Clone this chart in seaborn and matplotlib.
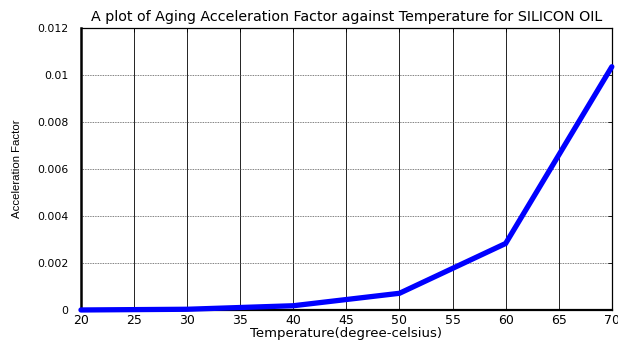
import matplotlib
matplotlib.use("Agg")
import matplotlib.pyplot as plt
import seaborn as sns
import pandas as pd

temperature = [20, 30, 40, 50, 60, 70]
accel_factor = [0.0, 0.00003, 0.00018, 0.00071, 0.00283, 0.01035]

x_ticks = [20, 25, 30, 35, 40, 45, 50, 55, 60, 65, 70]
y_ticks = [0, 0.002, 0.004, 0.006, 0.008, 0.01, 0.012]
y_tick_labels = ["0", "0.002", "0.004", "0.006", "0.008", "0.01", "0.012"]

sns.set_style("white")
plt.rcParams["font.family"] = ["DejaVu Sans"]
plt.rcParams["text.color"] = "black"
plt.rcParams["axes.labelcolor"] = "black"

df = pd.DataFrame({"temp": temperature, "af": accel_factor})

fig = plt.figure(figsize=(6.18, 3.41), dpi=100)
ax = fig.add_axes([0.131, 0.091, 0.859, 0.827])

sns.lineplot(data=df, x="temp", y="af", ax=ax, color="#0000ff", linewidth=3.8,
             solid_joinstyle="miter", clip_on=False, zorder=5)

ax.set_xlim(20, 70)
ax.set_ylim(0, 0.012)
ax.set_xticks(x_ticks)
ax.set_yticks(y_ticks)
ax.set_yticklabels(y_tick_labels)

# vertical grid solid, horizontal dotted
ax.xaxis.grid(True, color="black", linestyle="-", linewidth=0.6)
ax.yaxis.grid(True, color="#555555", linestyle=(0, (1, 1)), linewidth=0.6)
ax.set_axisbelow(True)

for s in ax.spines.values():
    s.set_color("black")
    s.set_linewidth(0.9)
ax.spines["left"].set_linewidth(1.8)
ax.spines["bottom"].set_linewidth(1.6)

ax.tick_params(direction="in", length=3, width=0.6, top=True, right=True,
               colors="black")
ax.tick_params(axis="x", labelsize=9, pad=3)
ax.tick_params(axis="y", labelsize=7.8, pad=9)

ax.set_title("A plot of Aging Acceleration Factor against Temperature for SILICON OIL",
             fontsize=10.3, pad=5, color="black")
ax.set_xlabel("Temperature(degree-celsius)", fontsize=9.5, labelpad=0)
ax.set_ylabel("Acceleration Factor", fontsize=8.2, labelpad=11,
              family=["Liberation Sans Narrow", "Liberation Sans", "DejaVu Sans"])

fig.savefig("out.png", dpi=100)
